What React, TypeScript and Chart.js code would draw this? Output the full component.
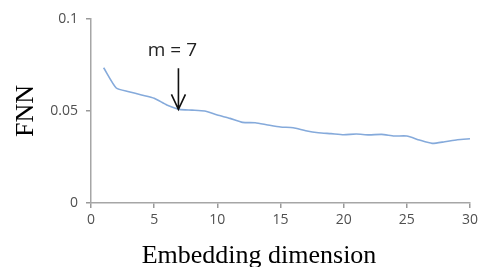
import React, { useEffect, useRef } from "react";
import { Chart, registerables } from "chart.js";

Chart.register(...registerables);

const dimensions: number[] = [1, 2, 3, 4, 5, 6, 7, 8, 9, 10, 11, 12, 13, 14, 15, 16, 17, 18, 19, 20, 21, 22, 23, 24, 25, 26, 27, 28, 29, 30];
const fnnValues: number[] = [
  0.0735, 0.0625, 0.0605, 0.0587, 0.0569, 0.0533, 0.0509, 0.0505, 0.0500, 0.0478,
  0.0460, 0.0438, 0.0436, 0.0424, 0.0413, 0.0409, 0.0393, 0.0382, 0.0377, 0.0371,
  0.0375, 0.0370, 0.0373, 0.0364, 0.0364, 0.0342, 0.0324, 0.0333, 0.0344, 0.0349,
];
const yTicks: number[] = [0, 0.05, 0.1];
const yTickLabels: string[] = ["0", "0.05", "0.1"];
const xTitle = "Embedding dimension";
const yTitle = "FNN";
const annotationLabel = "m = 7";
const annotationIndex = 6; // m = 7

const annotationPlugin = {
  id: "annotations",
  afterDatasetsDraw(chart: any) {
    const { ctx, scales } = chart;
    const px = scales.x.getPixelForValue(dimensions[annotationIndex]) - 1;
    const py = scales.y.getPixelForValue(fnnValues[annotationIndex]);
    ctx.save();
    ctx.strokeStyle = "#111";
    ctx.lineWidth = 1.6;
    ctx.beginPath();
    ctx.moveTo(px, py - 41);
    ctx.lineTo(px, py);
    ctx.moveTo(px - 7, py - 15);
    ctx.lineTo(px, py);
    ctx.lineTo(px + 7, py - 15);
    ctx.stroke();
    ctx.fillStyle = "#222";
    ctx.font = "19px 'Open Sans'";
    ctx.textAlign = "center";
    ctx.textBaseline = "alphabetic";
    ctx.fillText(annotationLabel, px - 6, py - 53);
    // x-axis title
    ctx.fillStyle = "#000";
    ctx.font = "26px 'Liberation Serif'";
    ctx.fillText(xTitle, 259, 263);
    ctx.restore();
  },
};

export default function App() {
  const ref = useRef<HTMLCanvasElement | null>(null);
  useEffect(() => {
    if (!ref.current) return;
    const axisGray = "#a6a6a6";
    const labelGray = "#505050";
    const chart = new Chart(ref.current, {
      type: "line",
      data: {
        datasets: [
          {
            data: dimensions.map((d, i) => ({ x: d, y: fnnValues[i] })),
            borderColor: "#85aadb",
            borderWidth: 1.6,
            pointRadius: 0,
            tension: 0.2,
            fill: false,
          },
        ],
      },
      options: {
        animation: false,
        responsive: false,
        devicePixelRatio: 1,
        layout: { padding: { left: 0, right: 9, top: 19, bottom: 0 } },
        plugins: { legend: { display: false }, tooltip: { enabled: false } },
        scales: {
          x: {
            type: "linear",
            min: 0,
            max: 30,
            afterFit: (s: any) => {
              s.height = 64;
            },
            ticks: {
              stepSize: 5,
              color: labelGray,
              font: { family: "'Open Sans'", size: 14 },
              padding: 4,
              maxRotation: 0,
            },
            grid: {
              display: true,
              drawOnChartArea: false,
              drawTicks: true,
              tickLength: 5,
              tickWidth: 1.5,
              tickColor: "#999999",
              lineWidth: 1.5,
              color: axisGray,
            },
            border: { display: true, color: axisGray, width: 1.5 },
          },
          y: {
            min: 0,
            max: 0.1,
            afterFit: (s: any) => {
              s.width = 91;
            },
            afterBuildTicks: (s: any) => {
              s.ticks = yTicks.map((v) => ({ value: v }));
            },
            ticks: {
              color: labelGray,
              font: { family: "'Open Sans'", size: 14 },
              padding: 8,
              callback: (v: any) => {
                const i = yTicks.indexOf(Number(v));
                return i >= 0 ? yTickLabels[i] : String(v);
              },
            },
            grid: {
              display: true,
              drawOnChartArea: false,
              drawTicks: true,
              tickLength: 5,
              tickWidth: 1.5,
              tickColor: "#999999",
              lineWidth: 1.5,
              color: axisGray,
            },
            border: { display: true, color: axisGray, width: 1.5 },
            title: {
              display: true,
              text: yTitle,
              color: "#000",
              font: { family: "'Liberation Serif'", size: 26 },
              padding: { top: 11, bottom: 0 },
            },
          },
        },
      },
      plugins: [annotationPlugin],
    });
    return () => chart.destroy();
  }, []);
  return (
    <div style={{ position: "fixed", left: 0, top: 0, width: 482, height: 267, background: "#fff" }}>
      <canvas ref={ref} width={482} height={267} style={{ display: "block" }} />
    </div>
  );
}
